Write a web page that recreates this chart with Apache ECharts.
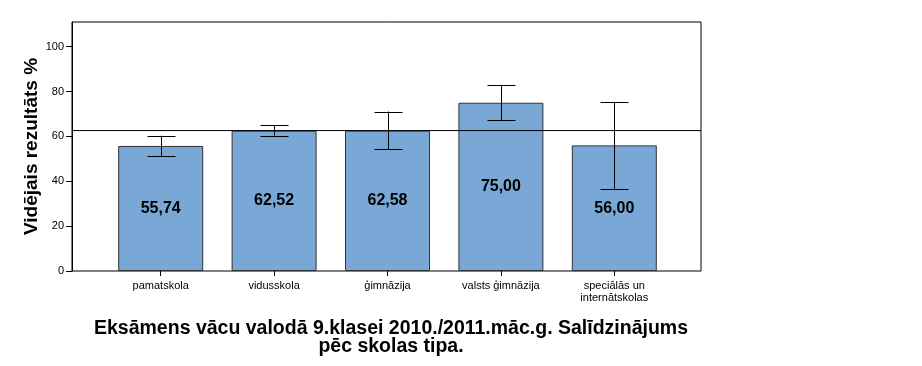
<!DOCTYPE html>
<html><head><meta charset="utf-8">
<script src="https://cdn.jsdelivr.net/npm/echarts@6/dist/echarts.min.js"></script>
<style>html,body{margin:0;padding:0;background:#fff}#c{width:922px;height:366px}</style>
</head><body><div id="c"></div>
<script>
const categories = ['pamatskola', 'vidusskola', 'ģimnāzija', 'valsts ģimnāzija', 'speciālās un\ninternātskolas'];
const means = [55.74, 62.52, 62.58, 75.00, 56.00];
const ciLow = [51.3, 60.4, 54.3, 67.1, 36.7];
const ciHigh = [60.3, 65.0, 71.1, 83.0, 75.4];
const overallMean = 62.6;
const yTicks = [0, 20, 40, 60, 80, 100];
const yMax = 111;
const FONT = '"Liberation Sans", Arial, sans-serif';

const chart = echarts.init(document.getElementById('c'), null, {renderer: 'canvas'});
chart.setOption({
  animation: false,
  textStyle: {fontFamily: FONT},
  title: {
    text: 'Eksāmens vācu valodā 9.klasei 2010./2011.māc.g. Salīdzinājums\npēc skolas tipa.',
    left: 386, top: 315, textAlign: 'center',
    textStyle: {fontFamily: FONT, fontSize: 19.5, fontWeight: 'bold', color: '#000', lineHeight: 18}
  },
  grid: [
    {left: 72, top: 22, width: 629, height: 249, show: true, borderColor: '#000', borderWidth: 1, backgroundColor: 'transparent'},
    {left: 104, top: 22, width: 567, height: 249}
  ],
  xAxis: [
    {gridIndex: 0, type: 'value', min: 0, max: 1, show: false},
    {gridIndex: 1, type: 'category', data: categories, boundaryGap: true,
     axisLine: {show: false},
     axisTick: {show: true, alignWithLabel: true, length: 5, lineStyle: {color: '#000'}},
     axisLabel: {color: '#000', fontSize: 11, margin: 9, fontFamily: FONT, lineHeight: 12, interval: 0}}
  ],
  yAxis: [
    {gridIndex: 0, type: 'value', min: 0, max: yMax,
     name: 'Vidējais rezultāts %', nameLocation: 'middle', nameGap: 31, nameRotate: 90, nameMoveOverlap: false,
     nameTextStyle: {fontSize: 19, fontWeight: 'bold', color: '#000', fontFamily: FONT},
     axisLine: {show: true, lineStyle: {color: '#000'}},
     axisTick: {show: true, length: 6, customValues: yTicks, lineStyle: {color: '#000'}},
     axisLabel: {color: '#000', fontSize: 11, margin: 8, customValues: yTicks, fontFamily: FONT},
     splitLine: {show: false}},
    {gridIndex: 1, type: 'value', min: 0, max: yMax, show: false, splitLine: {show: false}}
  ],
  series: [
    {type: 'bar', xAxisIndex: 1, yAxisIndex: 1, data: means, barWidth: 85, z: 2,
     itemStyle: {color: '#79a7d6', borderColor: '#333', borderWidth: 1},
     label: {show: true, position: 'inside', color: '#000', fontSize: 16, fontWeight: 'bold', fontFamily: FONT,
             formatter: p => p.value.toFixed(2).replace('.', ',')}},
    {type: 'line', xAxisIndex: 0, yAxisIndex: 0, data: [[0, overallMean], [1, overallMean]],
     symbol: 'none', z: 5, lineStyle: {color: '#000', width: 1}},
    {type: 'custom', xAxisIndex: 1, yAxisIndex: 1, z: 6,
     data: categories.map((c, i) => [i, ciLow[i], ciHigh[i]]),
     renderItem: function (params, api) {
       const lo = api.coord([api.value(0), api.value(1)]);
       const hi = api.coord([api.value(0), api.value(2)]);
       const x = Math.round(lo[0]) + 0.5;
       const hw = 14;
       const st = {stroke: '#000', lineWidth: 1};
       return {type: 'group', children: [
         {type: 'line', shape: {x1: x, y1: lo[1], x2: x, y2: hi[1]}, style: st},
         {type: 'line', shape: {x1: x - hw, y1: Math.round(lo[1]) + 0.5, x2: x + hw, y2: Math.round(lo[1]) + 0.5}, style: st},
         {type: 'line', shape: {x1: x - hw, y1: Math.round(hi[1]) + 0.5, x2: x + hw, y2: Math.round(hi[1]) + 0.5}, style: st}
       ]};
     }}
  ]
});
</script></body></html>
